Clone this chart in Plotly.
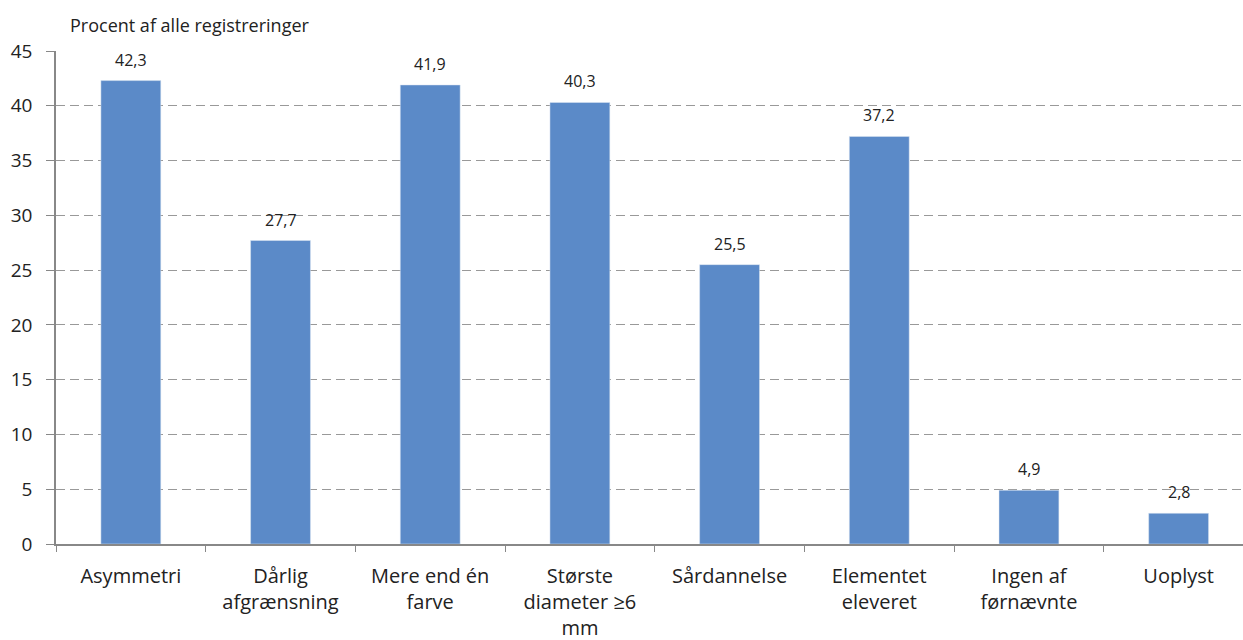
import plotly.graph_objects as go

categories = [
    "Asymmetri",
    "Dårlig<br>afgrænsning",
    "Mere end én<br>farve",
    "Største<br>diameter ≥6<br>mm",
    "Sårdannelse",
    "Elementet<br>eleveret",
    "Ingen af<br>førnævnte",
    "Uoplyst",
]
values = [42.3, 27.7, 41.9, 40.3, 25.5, 37.2, 4.9, 2.8]
value_labels = [f"{v:.1f}".replace(".", ",") for v in values]
y_ticks = [0, 5, 10, 15, 20, 25, 30, 35, 40, 45]

FONT = "Open Sans"
TEXT = "#222222"
AXIS = "#888888"

fig = go.Figure(
    go.Bar(
        x=categories,
        y=values,
        marker=dict(color="#5B8AC8", line=dict(color="#DCE6F2", width=0.5)),
        hoverinfo="skip",
    )
)

# value labels above each bar
for cat, val, lab in zip(categories, values, value_labels):
    fig.add_annotation(
        x=cat,
        y=val,
        text=lab,
        showarrow=False,
        yanchor="bottom",
        yshift=8,
        font=dict(family=FONT, size=16, color=TEXT),
    )

fig.update_layout(
    width=1243,
    height=640,
    margin=dict(l=56, r=0, t=51, b=96),
    paper_bgcolor="white",
    plot_bgcolor="white",
    bargap=0.6,
    showlegend=False,
    font=dict(family=FONT, color=TEXT),
)

fig.update_xaxes(
    type="category",
    range=[-0.5, 7.43],
    tickson="boundaries",
    ticks="outside",
    ticklen=6,
    tickcolor=AXIS,
    showline=True,
    linecolor=AXIS,
    linewidth=1.5,
    showgrid=False,
    tickfont=dict(family=FONT, size=20, color=TEXT),
    ticklabelstandoff=13,
)

fig.update_yaxes(
    range=[0, 45],
    tickvals=y_ticks,
    ticks="outside",
    ticklen=8,
    tickcolor=AXIS,
    showline=True,
    linecolor=AXIS,
    linewidth=1.5,
    showgrid=True,
    gridcolor="#999999",
    griddash="9px,5px",
    gridwidth=1.2,
    zeroline=False,
    tickfont=dict(family=FONT, size=19, color=TEXT),
    ticklabelstandoff=10,
)

fig.add_annotation(
    text="Procent af alle registreringer",
    xref="paper",
    yref="paper",
    x=12 / 1187,
    y=1,
    yshift=12,
    xanchor="left",
    yanchor="bottom",
    showarrow=False,
    font=dict(family=FONT, size=18, color=TEXT),
)

fig.write_html("out.html")
